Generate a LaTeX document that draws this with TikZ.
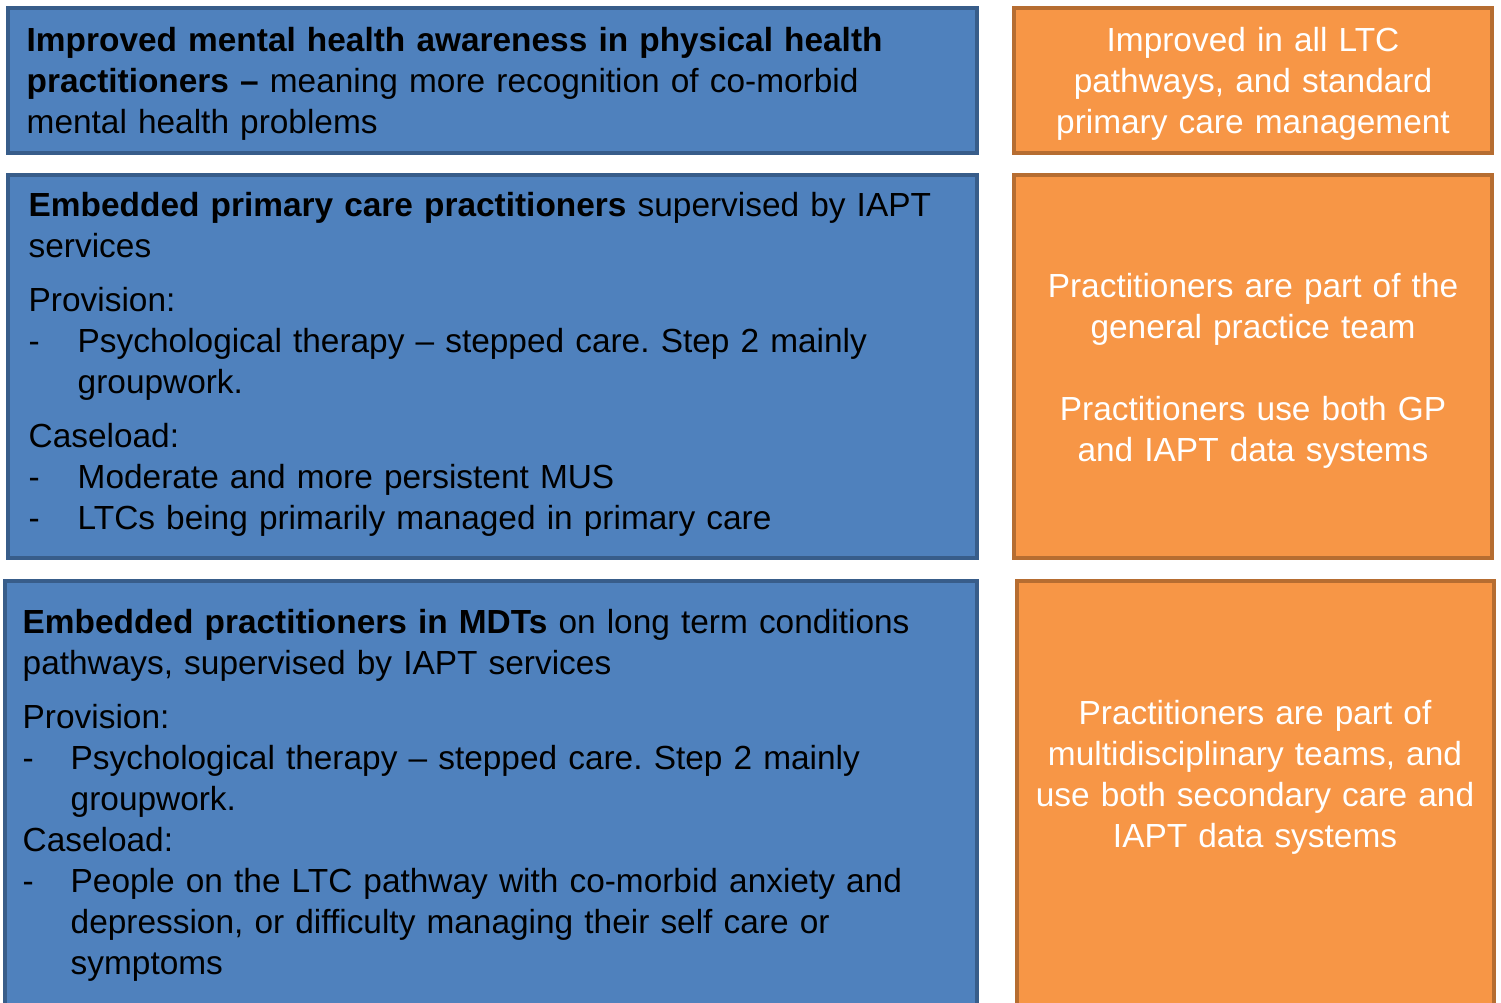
\documentclass[tikz,border=0pt]{standalone}
\usepackage{fontspec}
\setmainfont{Liberation Sans}[WordSpace=1.4]
\frenchspacing
\usetikzlibrary{fit}
\definecolor{blueFill}{HTML}{4F81BD}
\definecolor{blueEdge}{HTML}{385D8A}
\definecolor{orangeFill}{HTML}{F79646}
\definecolor{orangeEdge}{HTML}{B66D31}
\newcommand{\boxFont}{\fontsize{9.5}{11.67}\selectfont}
\newcommand{\dashItem}[2]{\makebox[#1][l]{-}#2}
\begin{document}
\begin{tikzpicture}
[x=0.01cm,y=-0.01cm,%
  blueDecorate/.style={draw=blueEdge,fill=blueFill,line width=0.9pt,inner sep=0pt},
  orangeDecorate/.style={draw=orangeEdge,fill=orangeFill,line width=0.9pt,inner sep=0pt},
  leftDecorate/.style={anchor=base west,inner sep=0pt,text width=9.4cm,align=left,font=\boxFont},
  centreDecorate/.style={anchor=base,inner sep=0pt,text width=4.7cm,align=center,text=white,font=\boxFont}]
\clip (0,0) rectangle (1501,1002);
%% boxes
\foreach \nodename/\xa/\ya/\xb/\yb/\boxstyle in {
  aware/8/8/977/153/blueDecorate, awareRes/1014/8/1492/153/orangeDecorate,
  primary/8/175/977/558/blueDecorate, primaryRes/1014/175/1492/558/orangeDecorate,
  mdt/5/581/977/1040/blueDecorate, mdtRes/1017/581/1494/1040/orangeDecorate}
{
  \node (\nodename) [\boxstyle,fit={(\xa,\ya) (\xb,\yb)}] {};
}
%% texts in the blue boxes
\node (awareText) at (26,51) [leftDecorate]
  {\textbf{Improved mental health awareness in physical health}\\
   \textbf{practitioners --} meaning more recognition of co-morbid\\
   mental health problems};
\node (primaryText) at (28,216) [leftDecorate]
  {\textbf{Embedded primary care practitioners} supervised by IAPT\\
   services\\[0.13cm]
   Provision:\\
   \dashItem{0.49cm}{Psychological therapy -- stepped care. Step 2 mainly}\\
   \hspace*{0.49cm}groupwork.\\[0.13cm]
   Caseload:\\
   \dashItem{0.49cm}{Moderate and more persistent MUS}\\
   \dashItem{0.49cm}{LTCs being primarily managed in primary care}};
\node (mdtText) at (22,633) [leftDecorate]
  {\textbf{Embedded practitioners in MDTs} on long term conditions\\
   pathways, supervised by IAPT services\\[0.13cm]
   Provision:\\
   \dashItem{0.48cm}{Psychological therapy -- stepped care. Step 2 mainly}\\
   \hspace*{0.48cm}groupwork.\\
   Caseload:\\
   \dashItem{0.48cm}{People on the LTC pathway with co-morbid anxiety and}\\
   \hspace*{0.48cm}depression, or difficulty managing their self care or\\
   \hspace*{0.48cm}symptoms};
%% texts in the orange boxes
\node (awareResText) at (1253,51) [centreDecorate]
  {Improved in all LTC\\ pathways, and standard\\ primary care management};
\node (primaryResText) at (1253,297) [centreDecorate]
  {Practitioners are part of the\\ general practice team\\[0.41cm]
   Practitioners use both GP\\ and IAPT data systems};
\node (mdtResText) at (1255,724) [centreDecorate]
  {Practitioners are part of\\ multidisciplinary teams, and\\
   use both secondary care and\\ IAPT data systems};
\end{tikzpicture}
\end{document}
